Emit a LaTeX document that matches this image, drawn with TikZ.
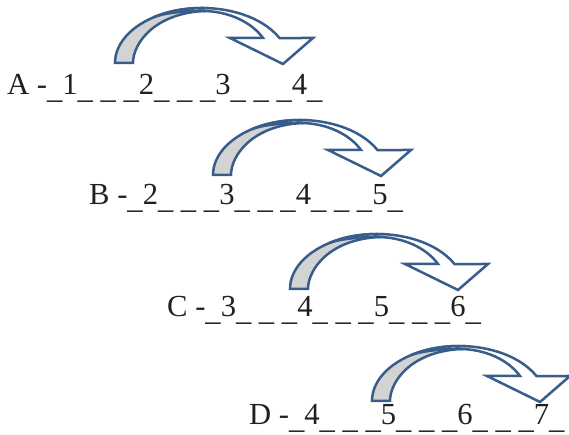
\documentclass[tikz,border=0pt]{standalone}
\usepackage{fontspec}
\setmainfont{Liberation Serif}
\usepackage{tikz}
\usetikzlibrary{positioning}
\definecolor{arrowblue}{RGB}{56,93,138}
\definecolor{shadegray}{RGB}{211,211,211}
\definecolor{textdark}{RGB}{35,31,32}
\newcommand{\lowbar}{\raisebox{-3.5pt}{\_}}

\begin{document}
\begin{tikzpicture}[x=1pt, y=1pt,
  rowlabel/.style={anchor=base west, inner sep=0pt, text=textdark, font=\fontsize{30.6}{36}\selectfont},
  bandedge/.style={draw=arrowblue, line width=2.5pt}]
  \useasboundingbox (0,0) rectangle (569,435);

  % --- Rows of numbers ---
  \node[rowlabel] (rowA) at (7,340) {A -\lowbar1\lowbar{} \lowbar{} \lowbar2\lowbar{} \lowbar{} \lowbar3\lowbar{} \lowbar{} \lowbar4\lowbar};
  \node[rowlabel] (rowB) at (89,230) {B -\lowbar2\lowbar{} \lowbar{} \lowbar3\lowbar{} \lowbar{} \lowbar4\lowbar{} \lowbar{} \lowbar5\lowbar};
  \node[rowlabel] (rowC) at (167,118) {C -\lowbar3\lowbar{} \lowbar{} \lowbar4\lowbar{} \lowbar{} \lowbar5\lowbar{} \lowbar{} \lowbar6\lowbar};
  \node[rowlabel] (rowD) at (249,10) {D -\lowbar4\lowbar{} \lowbar{} \lowbar5\lowbar{} \lowbar{} \lowbar6\lowbar{} \lowbar{} \lowbar7\lowbar};

  % --- Curved jump arrows ---
  \foreach \fx/\fy in {115/372, 213/260, 290/146, 372/34} {
    \begin{scope}[shift={(\fx,\fy)}]
      % shaded underside of the tail
      \draw[bandedge, fill=shadegray] (0,0)
        arc[start angle=180, end angle=87, x radius=87pt, y radius=55pt]
        -- (90,52) .. controls (40,50) and (18,20) .. (18,0) -- cycle;
      % band and head
      \draw[bandedge, fill=white] (38.3,45.6)
        arc[start angle=124, end angle=27, x radius=87pt, y radius=55pt]
        -- (198,25) -- (168,-1) -- (115,25) -- (148,25)
        arc[start angle=28.7, end angle=90, x radius=69.6pt, y radius=52pt]
        .. controls (72,52) and (49.3,50.3) .. (38.3,45.6) -- cycle;
    \end{scope}
  }
\end{tikzpicture}
\end{document}
